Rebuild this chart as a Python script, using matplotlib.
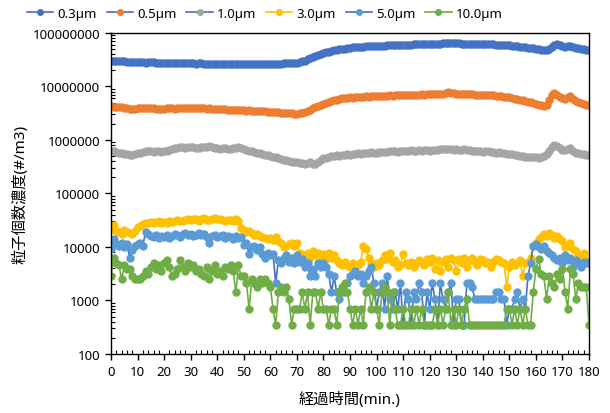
import matplotlib
matplotlib.use("Agg")
import matplotlib.pyplot as plt
import matplotlib.ticker as mticker
import numpy as np

plt.rcParams['font.family'] = ['Noto Sans', 'Noto Sans CJK JP', 'DejaVu Sans']

minutes = list(range(0, 181))

# 0.3 um, in millions /m3
p03_m = [30.5, 30.3, 30.0, 29.8, 29.6, 29.4, 29.0, 28.6, 28.4, 28.7,
         28.9, 28.5, 28.2, 28.0, 28.3, 28.6, 28.2, 27.8, 27.5, 27.3,
         27.1, 27.0, 27.2, 27.4, 27.3, 27.1, 27.0, 26.9, 27.0, 27.1,
         27.2, 27.0, 26.8, 26.9, 27.0, 26.8, 26.6, 26.7, 26.8, 26.6,
         26.5, 26.4, 26.3, 26.1, 26.0, 25.9, 26.0, 26.2, 26.3, 26.5,
         26.6, 26.7, 26.6, 26.5, 26.7, 26.8, 26.6, 26.5, 26.6, 26.7,
         26.8, 26.7, 26.6, 26.7, 26.8, 26.9, 27.0, 27.1, 27.2, 27.5,
         27.9, 28.5, 29.3, 30.5, 32.0, 33.6, 35.2, 37.0, 38.8, 40.5,
         42.0, 43.5, 45.0, 46.3, 47.5, 48.6, 49.7, 50.5, 51.2, 52.0,
         52.8, 53.5, 54.0, 54.6, 55.0, 55.5, 56.0, 56.3, 56.6, 57.0,
         57.3, 57.6, 57.8, 58.1, 58.4, 58.6, 58.9, 59.2, 59.5, 59.8,
         60.0, 60.2, 60.5, 60.8, 61.0, 61.2, 61.5, 61.7, 62.0, 62.2,
         62.5, 62.7, 63.0, 63.3, 63.5, 63.7, 64.0, 64.5, 65.0, 64.5,
         64.0, 63.7, 63.4, 63.2, 63.0, 62.8, 62.6, 62.5, 62.3, 62.0,
         61.8, 61.6, 61.4, 61.2, 61.0, 60.6, 60.2, 59.8, 59.3, 58.8,
         58.3, 57.7, 57.0, 56.3, 55.5, 54.7, 54.0, 53.2, 52.4, 51.6,
         50.8, 50.0, 49.0, 48.3, 48.0, 50.0, 55.0, 60.0, 62.5, 60.0,
         57.0, 55.0, 56.0, 58.0, 55.5, 53.0, 52.0, 51.0, 50.0, 49.0,
         48.5]

# 0.5 um, in millions /m3
p05_m = [4.25, 4.20, 4.15, 4.10, 4.05, 4.00, 3.95, 3.85, 3.80, 3.85,
         3.95, 4.00, 3.95, 3.90, 3.95, 4.00, 3.90, 3.80, 3.75, 3.80,
         3.85, 3.90, 3.95, 3.90, 3.85, 3.90, 3.95, 4.00, 3.95, 3.90,
         3.95, 4.00, 3.95, 3.90, 3.95, 3.90, 3.85, 3.90, 3.85, 3.80,
         3.80, 3.75, 3.80, 3.75, 3.70, 3.70, 3.65, 3.70, 3.65, 3.60,
         3.60, 3.55, 3.60, 3.55, 3.50, 3.50, 3.45, 3.50, 3.45, 3.40,
         3.40, 3.35, 3.35, 3.30, 3.25, 3.25, 3.20, 3.15, 3.15, 3.10,
         3.10, 3.15, 3.25, 3.40, 3.55, 3.70, 3.90, 4.10, 4.30, 4.55,
         4.80, 5.00, 5.20, 5.35, 5.50, 5.70, 5.85, 6.00, 6.15, 6.20,
         6.25, 6.15, 6.30, 6.40, 6.35, 6.45, 6.50, 6.45, 6.55, 6.60,
         6.55, 6.65, 6.70, 6.60, 6.75, 6.80, 6.70, 6.85, 6.90, 6.80,
         6.85, 6.95, 6.90, 6.95, 7.00, 6.95, 7.05, 7.10, 7.00, 7.10,
         7.15, 7.10, 7.20, 7.25, 7.20, 7.30, 7.50, 7.90, 7.60, 7.40,
         7.35, 7.30, 7.25, 7.20, 7.15, 7.10, 7.10, 7.05, 7.00, 6.95,
         6.95, 6.90, 6.85, 6.80, 6.80, 6.75, 6.65, 6.55, 6.45, 6.35,
         6.25, 6.10, 5.95, 5.80, 5.65, 5.50, 5.35, 5.20, 5.05, 4.90,
         4.75, 4.60, 4.45, 4.35, 4.50, 5.50, 7.00, 7.60, 7.00, 6.40,
         6.10, 5.90, 6.30, 6.60, 5.80, 5.40, 5.20, 5.00, 4.80, 4.60,
         4.45]

# 1.0 um, in hundred-thousands /m3
p10_h = [6.3, 6.2, 6.0, 5.8, 5.7, 5.5, 5.4, 5.3, 5.2, 5.4,
         5.6, 5.8, 6.0, 6.1, 6.2, 6.1, 6.0, 6.1, 6.2, 6.0,
         6.1, 6.3, 6.5, 6.8, 7.0, 7.2, 7.3, 7.4, 7.2, 7.3,
         7.5, 7.3, 7.0, 7.2, 7.4, 7.5, 7.3, 7.6, 7.4, 7.2,
         7.0, 6.9, 7.0, 7.1, 6.9, 6.8, 7.0, 7.2, 7.3, 7.1,
         6.8, 6.5, 6.3, 6.1, 5.9, 5.7, 5.6, 5.4, 5.3, 5.2,
         5.0, 4.9, 4.8, 4.6, 4.5, 4.3, 4.2, 4.0, 3.9, 3.8,
         3.8, 3.7, 3.7, 3.6, 3.7, 3.8, 3.6, 3.5, 3.9, 4.3,
         4.6, 4.7, 4.8, 5.0, 5.1, 5.2, 5.0, 5.2, 5.3, 5.4,
         5.3, 5.5, 5.4, 5.6, 5.5, 5.6, 5.7, 5.8, 5.9, 5.8,
         5.7, 5.9, 6.0, 5.9, 6.0, 6.1, 6.2, 6.1, 6.0, 6.2,
         6.1, 6.3, 6.2, 6.4, 6.3, 6.2, 6.4, 6.3, 6.5, 6.4,
         6.3, 6.4, 6.6, 6.5, 6.7, 6.8, 6.9, 6.8, 6.7, 6.6,
         6.7, 6.5, 6.6, 6.8, 6.5, 6.4, 6.3, 6.2, 6.3, 6.1,
         6.0, 6.2, 6.1, 5.9, 6.0, 5.8, 5.9, 5.7, 5.6, 5.5,
         5.4, 5.5, 5.3, 5.2, 5.1, 5.0, 4.9, 4.8, 4.8, 4.9,
         4.8, 4.7, 4.9, 5.1, 5.5, 6.3, 7.5, 8.0, 7.6, 7.0,
         6.6, 6.4, 6.8, 7.0, 6.2, 5.8, 5.6, 5.5, 5.4, 5.3,
         5.2]

# counts per 0.1 cubic foot (1 count = 353.15 /m3)
count_to_m3 = 353.15

c30 = [62, 72, 56, 54, 50, 58, 55, 52, 50, 57,
       66, 70, 75, 80, 78, 84, 78, 82, 86, 80,
       84, 80, 86, 82, 88, 90, 85, 88, 92, 95,
       90, 96, 93, 88, 95, 98, 92, 90, 94, 97,
       93, 95, 90, 86, 89, 92, 85, 94, 88, 64,
       58, 54, 56, 52, 48, 50, 46, 44, 42, 40,
       42, 38, 44, 36, 34, 28, 30, 32, 34, 30,
       33, 22, 18, 20, 22, 18, 24, 20, 22, 19,
       21, 17, 22, 18, 20, 16, 14, 13, 15, 13,
       12, 14, 12, 13, 15, 30, 26, 18, 14, 12,
       14, 13, 16, 20, 17, 22, 15, 16, 12, 13,
       21, 14, 13, 15, 12, 14, 16, 15, 13, 17,
       15, 18, 11, 16, 10, 15, 17, 12, 18, 16,
       10, 17, 14, 18, 12, 16, 18, 15, 13, 17,
       16, 14, 15, 12, 15, 17, 16, 15, 14, 5,
       12, 15, 13, 14, 16, 8, 14, 15, 18, 30,
       34, 40, 44, 50, 46, 52, 48, 42, 46, 40,
       36, 28, 30, 34, 26, 24, 20, 18, 22, 16,
       14]

c50 = [26, 40, 32, 30, 34, 28, 32, 18, 25, 30,
       32, 34, 30, 54, 50, 46, 44, 48, 42, 46,
       44, 48, 42, 46, 50, 48, 44, 50, 52, 48,
       50, 46, 48, 52, 48, 50, 44, 33, 46, 48,
       44, 46, 48, 42, 46, 44, 40, 46, 42, 44,
       31, 34, 21, 28, 30, 25, 28, 21, 18, 22,
       20, 21, 6, 16, 14, 18, 20, 15, 18, 14,
       20, 15, 17, 12, 14, 8, 11, 8, 14, 12,
       14, 12, 9, 4, 8, 4, 3, 4, 4, 6,
       8, 9, 10, 8, 9, 6, 8, 10, 12, 6,
       2, 4, 6, 2, 8, 3, 2, 4, 2, 6,
       1, 4, 3, 1, 4, 3, 6, 4, 1, 4,
       2, 6, 3, 1, 6, 3, 2, 4, 6, 1,
       3, 3, 1, 1, 6, 6, 5, 3, 3, 3,
       3, 3, 3, 3, 3, 4, 4, 3, 3, 1,
       2, 2, 3, 4, 2, 3, 2, 8, 14, 30,
       32, 28, 26, 30, 24, 22, 20, 18, 16, 18,
       14, 20, 16, 18, 12, 16, 14, 12, 15, 14,
       14]

c100 = [8, 18, 14, 13, 7, 13, 11, 11, 8, 7,
        7, 7, 8, 10, 9, 12, 14, 11, 13, 10,
        14, 16, 12, 8, 9, 11, 16, 12, 10, 14,
        12, 13, 10, 11, 9, 8, 12, 7, 10, 13,
        9, 10, 8, 12, 11, 13, 10, 4, 13, 8,
        8, 6, 2, 7, 6, 5, 7, 6, 7, 6,
        5, 2, 1, 4, 5, 4, 5, 3, 1, 2,
        2, 2, 4, 2, 4, 1, 4, 4, 2, 4,
        2, 2, 1, 2, 2, 1, 4, 5, 6, 4,
        2, 1, 2, 1, 2, 1, 4, 5, 2, 4,
        2, 1, 4, 5, 4, 1, 4, 2, 1, 1,
        2, 1, 1, 2, 1, 2, 1, 2, 1, 1,
        1, 1, 2, 1, 2, 1, 2, 4, 1, 2,
        1, 2, 1, 2, 3, 1, 1, 1, 1, 1,
        1, 1, 1, 1, 1, 1, 1, 1, 1, 2,
        2, 1, 2, 1, 2, 1, 2, 1, 1, 4,
        11, 17, 9, 8, 3, 8, 6, 5, 9, 7,
        11, 4, 2, 11, 9, 3, 6, 5, 5, 5,
        1]

labels = ['0.3µm', '0.5µm', '1.0µm', '3.0µm', '5.0µm', '10.0µm']
series = [
    np.array(p03_m) * 1e6,
    np.array(p05_m) * 1e6,
    np.array(p10_h) * 1e5,
    np.array(c30) * count_to_m3,
    np.array(c50) * count_to_m3,
    np.array(c100) * count_to_m3,
]
line_colors = ['#4472C4', '#4472C4', '#4472C4', '#FFC000', '#4472C4', '#70AD47']
marker_colors = ['#4472C4', '#ED7D31', '#A5A5A5', '#FFC000', '#5B9BD5', '#70AD47']

fig = plt.figure(figsize=(6.10, 4.14), dpi=100)
ax = fig.add_axes([0.182, 0.1425, 0.7836, 0.7755])

for y, lab, lc, mc in zip(series, labels, line_colors, marker_colors):
    ax.plot(minutes, y, color=lc, lw=1.2, marker='o', markersize=5,
            markerfacecolor=mc, markeredgecolor=mc, label=lab)

ax.set_yscale('log')
ax.set_ylim(100, 1e8)
ax.set_xlim(0, 180)
ax.xaxis.set_major_locator(mticker.MultipleLocator(10))
ax.xaxis.set_minor_locator(mticker.MultipleLocator(2))
ax.yaxis.set_major_locator(mticker.LogLocator(base=10, numticks=20))
ax.yaxis.set_minor_locator(mticker.LogLocator(base=10, subs=np.arange(2, 10), numticks=20))
ax.yaxis.set_minor_formatter(mticker.NullFormatter())
ax.yaxis.set_major_formatter(mticker.FuncFormatter(lambda v, p: '%d' % round(v)))

ax.tick_params(axis='both', which='major', direction='out', length=4, width=1,
               labelsize=9.5, colors='black', pad=4)
ax.tick_params(axis='both', which='minor', direction='in', length=3, width=0.8)
for s in ax.spines.values():
    s.set_color('black')
    s.set_linewidth(1)

ax.set_xlabel('経過時間(min.)', fontsize=11, labelpad=9)
ax.set_ylabel('粒子個数濃度(#/m3)', fontsize=11, labelpad=3)

leg = fig.legend(loc='upper center', bbox_to_anchor=(0.434, 1.01), ncol=6,
                 frameon=False, fontsize=9.5, handlelength=2.0, handletextpad=0.3,
                 columnspacing=0.75, markerscale=0.8)

fig.savefig('out.png', dpi=100)
